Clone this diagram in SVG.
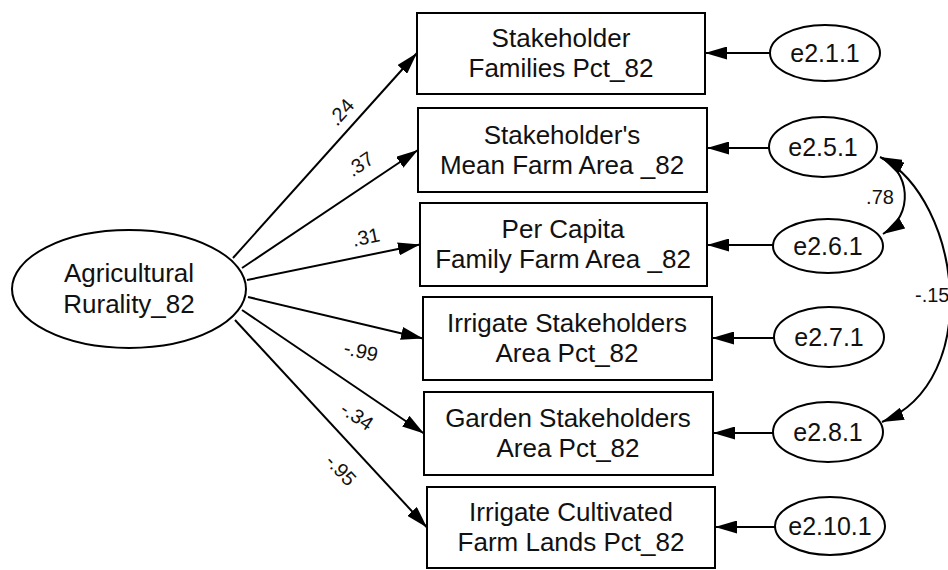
<svg xmlns="http://www.w3.org/2000/svg" width="948" height="570" viewBox="0 0 948 570">
<style>
.shape{fill:#fff;stroke:#000;stroke-width:2}
.t{font-family:"Liberation Sans",Arial,sans-serif;font-size:26px;fill:#111;text-anchor:middle}
.e{font-family:"Liberation Sans",Arial,sans-serif;font-size:25px;fill:#111;text-anchor:middle}
.lbl{font-family:"Liberation Sans",Arial,sans-serif;font-size:20px;fill:#111;text-anchor:middle}
.c{fill:none;stroke:#000;stroke-width:2}
.a{marker-end:url(#ah)}
.b{marker-start:url(#ah);marker-end:url(#ah)}
</style>
<defs>
<marker id="ah" markerUnits="userSpaceOnUse" markerWidth="22" markerHeight="13" refX="22" refY="6.5" orient="auto-start-reverse" viewBox="0 0 22 13">
<path d="M0,0 L22,6.5 L0,13 z" fill="#000"/>
</marker>
</defs>
<rect width="948" height="570" fill="#fff"/>
<g id="connectors">
<line class="c a" x1="233" y1="258" x2="417" y2="53"/>
<line class="c a" x1="242" y1="268" x2="418" y2="150"/>
<line class="c a" x1="247" y1="280" x2="420" y2="244.5"/>
<line class="c a" x1="248" y1="297" x2="423" y2="338.5"/>
<line class="c a" x1="242" y1="310" x2="424" y2="433.5"/>
<line class="c a" x1="235" y1="320" x2="427" y2="527.5"/>
<line class="c a" x1="770" y1="53" x2="705" y2="53"/>
<line class="c a" x1="769" y1="148" x2="707" y2="148"/>
<line class="c a" x1="773" y1="245" x2="707" y2="245"/>
<line class="c a" x1="774" y1="338" x2="712" y2="338"/>
<line class="c a" x1="773" y1="433" x2="713" y2="433"/>
<line class="c a" x1="775" y1="527" x2="715" y2="527"/>
<path class="c b" d="M880 157 C910 170 915 215 883 234"/>
<path class="c b" d="M882 158 C960 200 985 380 882 422"/>
<g transform="translate(341,112) rotate(-48)"><text class="lbl" x="0" y="7">.24</text></g>
<g transform="translate(360,164) rotate(-34)"><text class="lbl" x="0" y="7">.37</text></g>
<g transform="translate(366,237) rotate(-11.5)"><text class="lbl" x="0" y="7">.31</text></g>
<g transform="translate(361,351) rotate(13)"><text class="lbl" x="0" y="7">-.99</text></g>
<g transform="translate(357,416) rotate(34)"><text class="lbl" x="0" y="7">-.34</text></g>
<g transform="translate(341,470) rotate(47)"><text class="lbl" x="0" y="7">-.95</text></g>
<text class="lbl" x="880" y="204">.78</text>
<text class="lbl" x="915" y="302" style="text-anchor:start">-.15</text>
</g>
<g id="agri"><ellipse class="shape" cx="129" cy="289" rx="117" ry="59"/><text class="t" x="129" y="282">Agricultural</text><text class="t" x="129" y="313">Rurality_82</text></g>
<g id="box1"><rect class="shape" x="417" y="13" width="288" height="81"/><text class="t" x="561" y="47">Stakeholder</text><text class="t" x="561" y="77">Families Pct_82</text></g>
<g id="box2"><rect class="shape" x="418" y="108" width="289" height="84"/><text class="t" x="562" y="144">Stakeholder's</text><text class="t" x="562" y="174">Mean Farm Area _82</text></g>
<g id="box3"><rect class="shape" x="420" y="203" width="287" height="83"/><text class="t" x="563" y="238">Per Capita</text><text class="t" x="563" y="268">Family Farm Area _82</text></g>
<g id="box4"><rect class="shape" x="423" y="297" width="289" height="83"/><text class="t" x="567" y="332">Irrigate Stakeholders</text><text class="t" x="567" y="362">Area Pct_82</text></g>
<g id="box5"><rect class="shape" x="424" y="392" width="289" height="83"/><text class="t" x="568" y="427">Garden Stakeholders</text><text class="t" x="568" y="457">Area Pct_82</text></g>
<g id="box6"><rect class="shape" x="427" y="487" width="288" height="81"/><text class="t" x="571" y="521">Irrigate Cultivated</text><text class="t" x="571" y="551">Farm Lands Pct_82</text></g>
<g id="e211"><ellipse class="shape" cx="825" cy="53" rx="55" ry="28"/><text class="e" x="825" y="62">e2.1.1</text></g>
<g id="e251"><ellipse class="shape" cx="823" cy="147" rx="54" ry="30"/><text class="e" x="823" y="156">e2.5.1</text></g>
<g id="e261"><ellipse class="shape" cx="828" cy="246" rx="55" ry="27"/><text class="e" x="828" y="255">e2.6.1</text></g>
<g id="e271"><ellipse class="shape" cx="829" cy="337" rx="55" ry="30"/><text class="e" x="829" y="346">e2.7.1</text></g>
<g id="e281"><ellipse class="shape" cx="828" cy="432" rx="55" ry="30"/><text class="e" x="828" y="441">e2.8.1</text></g>
<g id="e2101"><ellipse class="shape" cx="830" cy="526" rx="55" ry="29"/><text class="e" x="830" y="535">e2.10.1</text></g>
</svg>
